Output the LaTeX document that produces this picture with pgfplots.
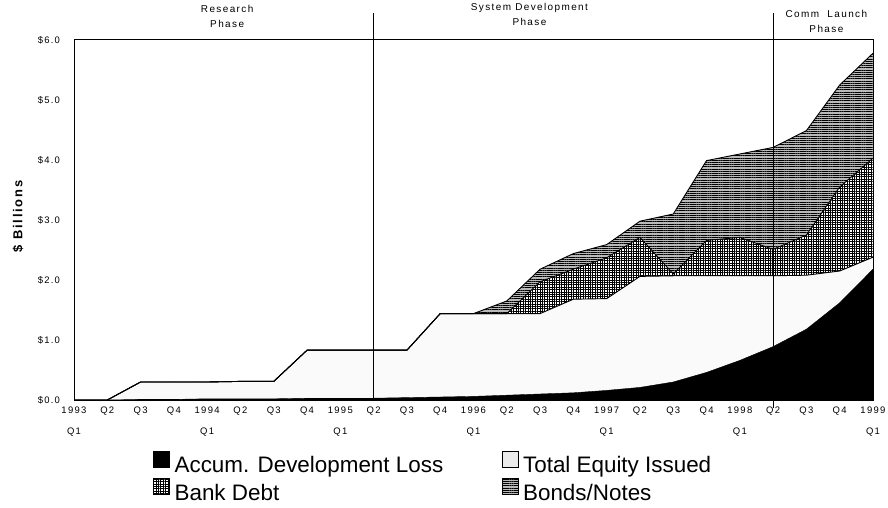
\documentclass[border=0pt]{standalone}
\usepackage{fontspec}
\setmainfont{Liberation Sans}
\newfontfamily\spfont[LetterSpace=14]{Liberation Sans}
\newfontfamily\spwfont[LetterSpace=12]{Liberation Sans}
\usepackage{pgfplots}
\usepackage{pgfplotstable}
\pgfplotsset{compat=1.18}
\usepgfplotslibrary{fillbetween}
\usetikzlibrary{patterns.meta}

% cumulative tops: eq = total equity, bank = equity + bank debt, bond = + bonds/notes
\pgfplotstableread{
idx loss eq   bank bond
0   0.00 0.00 0.00 0.00
1   0.00 0.00 0.00 0.00
2   0.01 0.30 0.30 0.30
3   0.01 0.30 0.30 0.30
4   0.02 0.30 0.30 0.30
5   0.02 0.31 0.31 0.31
6   0.02 0.31 0.31 0.31
7   0.03 0.83 0.83 0.83
8   0.03 0.83 0.83 0.83
9   0.03 0.83 0.83 0.83
10  0.04 0.83 0.83 0.83
11  0.05 1.44 1.44 1.44
12  0.06 1.44 1.44 1.44
13  0.08 1.44 1.44 1.65
14  0.10 1.44 1.97 2.18
15  0.12 1.68 2.18 2.44
16  0.16 1.69 2.37 2.59
17  0.21 2.06 2.71 2.98
18  0.30 2.07 2.10 3.10
19  0.46 2.07 2.66 3.99
20  0.66 2.07 2.71 4.10
21  0.89 2.07 2.51 4.21
22  1.18 2.08 2.75 4.49
23  1.62 2.15 3.55 5.25
24  2.18 2.38 4.03 5.78
}\fundtab

\begin{document}
\begin{tikzpicture}
\begin{axis}[
  at={(0,0)}, anchor=south west,
  width=799bp, height=360bp, scale only axis,
  xmin=0, xmax=24, ymin=0, ymax=6,
  xtick={0,...,24},
  xticklabels={{1993\\Q1},Q2,Q3,Q4,{1994\\Q1},Q2,Q3,Q4,{1995\\Q1},Q2,Q3,Q4,{1996\\Q1},Q2,Q3,Q4,{1997\\Q1},Q2,Q3,Q4,{1998\\Q1},Q2,Q3,Q4,{1999\\Q1}},
  ytick={0,1,2,3,4,5,6},
  yticklabels={\$0.0,\$1.0,\$2.0,\$3.0,\$4.0,\$5.0,\$6.0},
  major tick length=0pt,
  xticklabel style={align=center, font=\spfont\fontsize{9.5}{21}\selectfont, inner sep=0pt, yshift=-7bp},
  yticklabel style={font=\spwfont\fontsize{9.5}{10}\selectfont, inner sep=0pt, xshift=-14bp},
  ylabel={\$ Billions},
  ylabel style={font=\spfont\bfseries\fontsize{13}{14}\selectfont, at={(axis description cs:-0.070,0.51)}, anchor=center},
  axis line style={line width=1bp},
  clip=false,
  axis on top,
  legend columns=2,
  legend cell align=left,
  legend image code/.code={\draw[#1,draw=black,line width=0.8bp] (0bp,-2bp) rectangle (16bp,14bp);},
  legend style={at={(axis description cs:0.099,-0.14)}, anchor=north west, draw=none, fill=none,
    inner sep=0pt, font=\fontsize{22.5}{26}\selectfont,
    nodes={inner sep=2.5bp},
    /tikz/every even column/.append style={column sep=56bp},
    /tikz/every odd column/.append style={column sep=2bp},
    row sep=2bp},
]
% boundary paths
\addplot[draw=none, name path=Z, forget plot] coordinates {(0,0) (24,0)};
\addplot[draw=none, name path=E, forget plot] table[x=idx,y=eq]{\fundtab};
\addplot[draw=none, name path=B, forget plot] table[x=idx,y=bank]{\fundtab};
\addplot[draw=none, name path=T, forget plot] table[x=idx,y=bond]{\fundtab};
% fills
\addplot[fill=gray!4, draw=none, forget plot] fill between[of=E and Z];
\addplot[fill=white, draw=none, postaction={pattern={Hatch[angle=0,distance=2.4bp,line width=0.8bp]}, pattern color=black}, forget plot] fill between[of=B and E];
\addplot[fill=gray!55, draw=none, postaction={pattern={Lines[angle=0,distance=2.2bp,line width=1bp]}, pattern color=black}, forget plot] fill between[of=T and B];
\addplot[fill=black, draw=black, forget plot] table[x=idx,y=loss]{\fundtab} \closedcycle;
% outlines
\addplot[black, line width=0.9bp, forget plot] table[x=idx,y=eq]{\fundtab};
\addplot[black, line width=0.9bp, forget plot] table[x=idx,y=bank]{\fundtab};
\addplot[black, line width=0.9bp, forget plot] table[x=idx,y=bond]{\fundtab};
% legend
\addlegendimage{fill=black}
\addlegendentry{Accum. Development Loss}
\addlegendimage{fill=gray!15}
\addlegendentry{Total Equity Issued}
\addlegendimage{fill=white, postaction={pattern={Hatch[angle=0,distance=2.4bp,line width=0.8bp]}, pattern color=black}}
\addlegendentry{Bank Debt}
\addlegendimage{fill=gray!55, postaction={pattern={Lines[angle=0,distance=2.2bp,line width=1bp]}, pattern color=black}}
\addlegendentry{Bonds/Notes}
% phase separators
\draw[line width=0.9bp] (axis cs:9,0) -- (axis cs:9,6.45);
\draw[line width=0.9bp] (axis cs:21,-0.13) -- (axis cs:21,6.45);
\node[align=center, anchor=north, inner sep=0pt, font=\spfont\fontsize{10}{15}\selectfont] at (axis cs:4.6,6.58) {Research\\Phase};
\node[align=center, anchor=north, inner sep=0pt, font=\spfont\fontsize{10}{15}\selectfont] at (axis cs:13.68,6.62) {System Development\\Phase};
\node[align=center, anchor=north, inner sep=0pt, font=\spfont\fontsize{10}{15}\selectfont] at (axis cs:22.6,6.5) {Comm~~Launch\\Phase};
\end{axis}
\pgfresetboundingbox
\path[use as bounding box] (-74bp,-108bp) rectangle (814bp,400bp);
\end{tikzpicture}
\end{document}
